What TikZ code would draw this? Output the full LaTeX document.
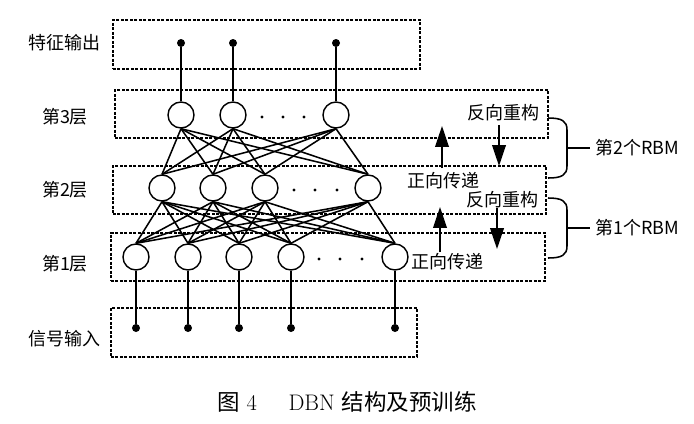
\documentclass[tikz,border=0pt]{standalone}
\usepackage{fontspec}
\newfontfamily\cjk{Noto Sans CJK SC}
\usetikzlibrary{arrows.meta}
\tikzset{
  layerbox/.style={draw, rectangle, inner sep=0pt, outer sep=0pt, line width=0.9pt, dash pattern=on 2pt off 1.2pt},
  unit/.style={draw, circle, fill=white, minimum size=0.65cm, inner sep=0pt, line width=1pt},
  pin/.style={circle, fill=black, minimum size=0.2cm, inner sep=0pt},
  link/.style={line width=1.1pt},
  label/.style={font=\cjk\fontsize{12.8}{15}\selectfont, inner sep=0pt},
  bigarrow/.style={line width=1.1pt, -{Triangle[length=0.52cm, width=0.34cm]}}
}
\begin{document}
\begin{tikzpicture}[x=0.025cm, y=-0.025cm]
\useasboundingbox (0,0) rectangle (694,423);
% dashed layer boxes
\node[layerbox, minimum width=7.675cm, minimum height=1.225cm] (outbox) at (266.5,44.5) {};
\node[layerbox, minimum width=10.825cm, minimum height=1.2cm] (box3) at (331.5,114) {};
\node[layerbox, minimum width=10.825cm, minimum height=1.2cm] (box2) at (329.5,190) {};
\node[layerbox, minimum width=10.85cm, minimum height=1.2cm] (box1) at (328,257) {};
\node[layerbox, minimum width=7.65cm, minimum height=1.225cm] (inbox) at (264,332.5) {};
% left labels
\node[label] (lout) at (64,43) {特征输出};
\node[label] (l3) at (65,117) {第3层};
\node[label] (l2) at (65,190) {第2层};
\node[label] (l1) at (65,264) {第1层};
\node[label] (lin) at (64,339) {信号输入};
% output pins
\node[pin] (o1) at (181,43) {};
\node[pin] (o2) at (233,43) {};
\node[pin] (o3) at (336,43) {};
% layer 3
\node[unit] (c1) at (181,115) {};
\node[unit] (c2) at (233,115) {};
\node[unit] (c3) at (336,115) {};
% layer 2
\node[unit] (b1) at (162,188) {};
\node[unit] (b2) at (213,188) {};
\node[unit] (b3) at (265,188) {};
\node[unit] (b4) at (368,188) {};
% layer 1
\node[unit] (a1) at (136,257) {};
\node[unit] (a2) at (188,257) {};
\node[unit] (a3) at (239,257) {};
\node[unit] (a4) at (291,257) {};
\node[unit] (a5) at (395,257) {};
% input pins
\node[pin] (i1) at (136,328) {};
\node[pin] (i2) at (188,328) {};
\node[pin] (i3) at (239,328) {};
\node[pin] (i4) at (291,328) {};
\node[pin] (i5) at (395,328) {};
% ellipsis dots
\fill (262,117) circle (1.7) (283,117) circle (1.7) (304,117) circle (1.7);
\fill (294,190) circle (1.7) (315,190) circle (1.7) (337,190) circle (1.7);
\fill (319,259) circle (1.7) (340,259) circle (1.7) (362,259) circle (1.7);
% connections
\draw[link] (c1) -- (o1);
\draw[link] (c2) -- (o2);
\draw[link] (c3) -- (o3);
\foreach \u in {c1,c2,c3}
  \foreach \l in {b1,b2,b3,b4}
    \draw[link] (\u.south) -- (\l.north);
\foreach \u in {b1,b2,b3,b4}
  \foreach \l in {a1,a2,a3,a4,a5}
    \draw[link] (\u.south) -- (\l.north);
\draw[link] (a1) -- (i1);
\draw[link] (a2) -- (i2);
\draw[link] (a3) -- (i3);
\draw[link] (a4) -- (i4);
\draw[link] (a5) -- (i5);
% right side labels and arrows
\node[label] (rev2) at (503,113) {反向重构};
\node[label] (fwd2) at (443,181) {正向传递};
\node[label] (rev1) at (502,200) {反向重构};
\node[label] (fwd1) at (447,262) {正向传递};
\draw[bigarrow] (442,168) -- (442,126);
\draw[bigarrow] (499,125) -- (499,166);
\draw[bigarrow] (440,252) -- (440,207);
\draw[bigarrow] (497,208) -- (497,249);
% braces
\draw[link] (548,118) .. controls (562,118) and (567,121) .. (567,130) -- (567,166) .. controls (567,175) and (562,178) .. (548,178);
\draw[link] (567,148) -- (590,148);
\node[label, anchor=west] (rbm2) at (595,148) {第2个RBM};
\draw[link] (548,198) .. controls (562,198) and (567,201) .. (567,210) -- (567,246) .. controls (567,255) and (562,258) .. (548,258);
\draw[link] (567,228) -- (590,228);
\node[label, anchor=west] (rbm1) at (595,228) {第1个RBM};
% caption
\node[font=\fontsize{16}{18}\selectfont] (cap) at (347,402) {{\cjk 图} 4\hspace{1.4em}DBN {\cjk 结构及预训练}};
\end{tikzpicture}
\end{document}
